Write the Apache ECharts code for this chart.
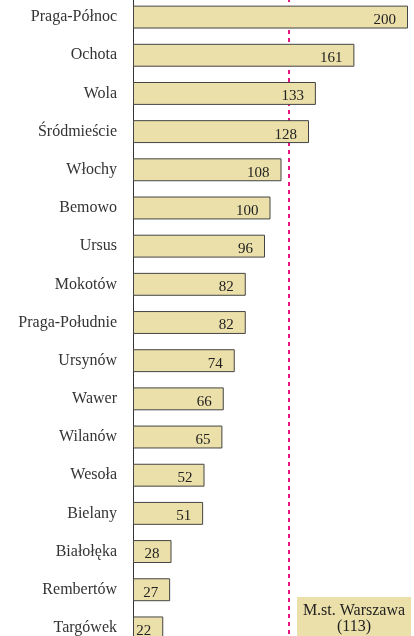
<!DOCTYPE html>
<html>
<head>
<meta charset="utf-8">
<script src="https://cdn.jsdelivr.net/npm/echarts@6/dist/echarts.min.js"></script>
<style>
  html, body { margin: 0; padding: 0; background: #fff; }
  #chart { width: 414px; height: 636px; }
</style>
</head>
<body>
<div id="chart"></div>
<script>
const districts = [
  "Praga-Północ", "Ochota", "Wola", "Śródmieście", "Włochy", "Bemowo", "Ursus",
  "Mokotów", "Praga-Południe", "Ursynów", "Wawer", "Wilanów", "Wesoła",
  "Bielany", "Białołęka", "Rembertów", "Targówek"
];
const values = [200, 161, 133, 128, 108, 100, 96, 82, 82, 74, 66, 65, 52, 51, 28, 27, 22];
const cityAverage = 113;
const cityLabel = ["M.st. Warszawa", "(113)"];

const serif = "'Liberation Serif', 'DejaVu Serif', serif";

const chart = echarts.init(document.getElementById("chart"), null, { renderer: "canvas" });

chart.setOption({
  animation: false,
  grid: {
    left: 133, width: 275, top: -2, height: 649,
    containLabel: false,
    outerBoundsMode: "none"
  },
  xAxis: {
    type: "value",
    min: 0,
    max: 200,
    show: false
  },
  yAxis: {
    type: "category",
    data: districts,
    inverse: true,
    axisLine: { show: true, lineStyle: { color: "#333", width: 1 } },
    axisTick: { show: false },
    axisLabel: {
      margin: 16,
      color: "#333",
      fontFamily: serif,
      fontSize: 16
    }
  },
  series: [
    {
      // average line, on a lower layer so the bars cover it
      type: "bar",
      data: [],
      zlevel: 0,
      markLine: {
        silent: true,
        symbol: ["none", "none"],
        label: { show: false },
        lineStyle: { color: "#e8167f", type: [4, 4], width: 2 },
        data: [{ xAxis: cityAverage }]
      }
    },
    {
      type: "bar",
      data: values,
      zlevel: 1,
      barWidth: "60%",
      barGap: "-100%",
      itemStyle: {
        color: "#ebe0a9",
        borderColor: "#444",
        borderWidth: 1
      },
      label: {
        show: true,
        position: "insideRight",
        distance: 12,
        offset: [0, 3],
        color: "#222",
        fontFamily: serif,
        fontSize: 15
      }
    }
  ],
  graphic: [
    {
      type: "rect",
      left: 297,
      top: 597,
      zlevel: 1,
      shape: { width: 114, height: 45 },
      style: { fill: "#ebe0a9" }
    },
    {
      type: "text",
      x: 354,
      y: 603,
      zlevel: 1,
      style: {
        text: cityLabel.join("\n"),
        align: "center",
        textAlign: "center",
        fill: "#222",
        font: "16px " + serif,
        lineHeight: 16
      }
    }
  ]
});
</script>
</body>
</html>
